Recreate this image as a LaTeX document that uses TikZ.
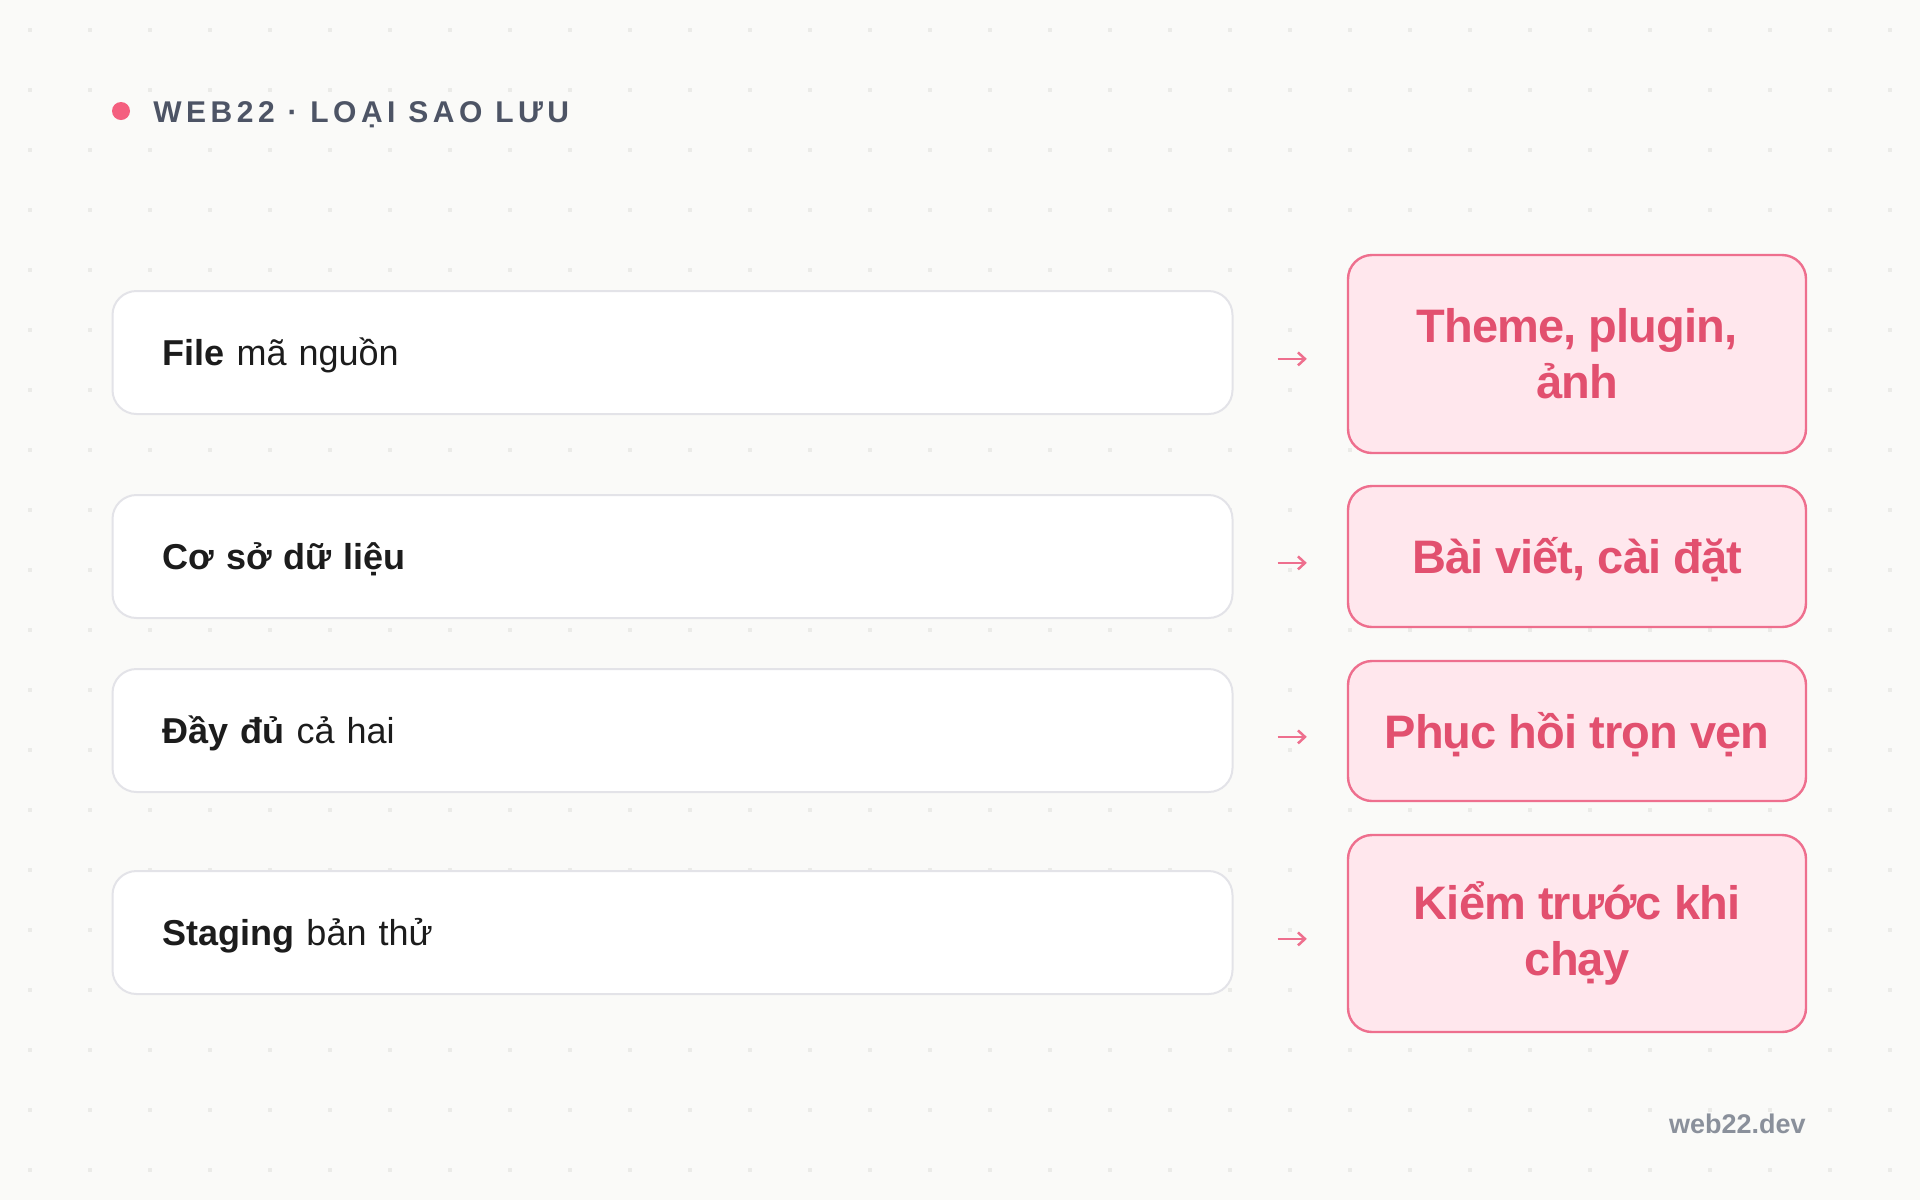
\documentclass[tikz,border=0pt]{standalone}
\usepackage{fontspec}
\setmainfont{Liberation Sans}
\newfontfamily\titlefont[LetterSpace=15]{Liberation Sans}
\newfontfamily\tagfont[LetterSpace=-2]{Liberation Sans}
\usetikzlibrary{arrows.meta}

\definecolor{paper}{HTML}{FAFAF8}
\definecolor{griddot}{HTML}{EBEBE8}
\definecolor{rowedge}{HTML}{E3E3E8}
\definecolor{rowtext}{HTML}{1C1C1C}
\definecolor{tagedge}{HTML}{EE6F8E}
\definecolor{tagfill}{HTML}{FFE7ED}
\definecolor{tagtext}{HTML}{E2506F}
\definecolor{titletext}{HTML}{4D5465}
\definecolor{foottext}{HTML}{8A909B}
\definecolor{bullet}{HTML}{F45F7F}

\begin{document}
\begin{tikzpicture}[
              x=0.5pt,y=-0.5pt,
              rowbox/.style={
                  draw=rowedge,
                  fill=white,
                  line width=1pt,
                  rounded corners=12pt,
                  text width=510pt,
                  inner xsep=25pt,
                  inner ysep=0pt,
                  minimum height=61.5pt,
                  align=left,
                  text=rowtext,
                  text height=12.8pt,
                  text depth=0pt,
                  font=\fontsize{18pt}{21pt}\selectfont,
                },
              tagbox/.style={
                  draw=tagedge,
                  fill=tagfill,
                  line width=1.2pt,
                  rounded corners=12pt,
                  minimum width=229pt,
                  inner sep=0pt,
                  align=center,
                  text=tagtext,
                  font=\tagfont\bfseries\fontsize{23.5pt}{28pt}\selectfont,
                },
              oneline/.style={text height=17pt,text depth=0pt},
              pointer/.style={
                  draw=tagedge,
                  line width=1.25pt,
                  -{Straight Barb[length=3.5pt,width=6.5pt]},
                  shorten <=22pt,
                  shorten >=20pt,
                }
            ]
            % background and dot grid
            \fill[paper] (0,0) rectangle (1920,1200);
            \useasboundingbox (0,0) rectangle (1920,1200);
            \foreach \gx in {30,90,...,1890}
            \foreach \gy in {30,90,...,1170}
            \fill[griddot] (\gx-2,\gy-2) rectangle +(4,4);
            % heading
            \fill[bullet] (121,111) circle[radius=4.5pt];
            \node[anchor=base west,inner sep=0pt,text=titletext,
                  font=\titlefont\bfseries\fontsize{15pt}{18pt}\selectfont]
                  (title) at (153,122) {WEB22 · LOẠI SAO LƯU};
            % backup kinds
            \node[rowbox] (kind1) at (672.5,352.5) {\textbf{File} mã nguồn};
            \node[rowbox] (kind2) at (672.5,556.5) {\textbf{Cơ sở dữ liệu}};
            \node[rowbox] (kind3) at (672.5,730.5) {\textbf{Đầy đủ} cả hai};
            \node[rowbox] (kind4) at (672.5,932.5) {\textbf{Staging} bản thử};
            % what each one keeps
            \node[tagbox,minimum height=99pt] (keep1) at (1577,354) {Theme, plugin,\\ảnh};
            \node[tagbox,oneline,minimum height=70.5pt] (keep2) at (1577,556.5) {Bài viết, cài đặt};
            \node[tagbox,oneline,minimum height=70pt] (keep3) at (1577,731) {Phục hồi trọn vẹn};
            \node[tagbox,minimum height=98.5pt] (keep4) at (1577,933.5) {Kiểm trước khi\\chạy};
            \foreach \Row in {1,...,4}
            \draw[pointer] ([yshift=-3.2pt]kind\Row.east) -- ([yshift=-3.2pt]kind\Row.east -| keep\Row.west);
            % footer
            \node[anchor=base east,inner sep=0pt,text=foottext,
                  font=\bfseries\fontsize{13.5pt}{16pt}\selectfont]
                  (site) at (1806,1133) {web22.dev};
          \end{tikzpicture}
\end{document}
